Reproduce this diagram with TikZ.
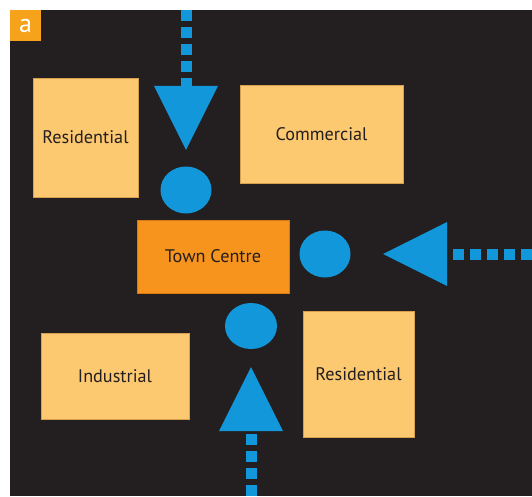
\documentclass[tikz,border=0pt]{standalone}
\usepackage{fontspec}
\setmainfont{PT Sans}
\usetikzlibrary{shapes.geometric,arrows.meta}

\definecolor{backdrop}{RGB}{35,31,32}
\definecolor{zonefill}{RGB}{252,200,112}
\definecolor{zoneedge}{RGB}{214,160,80}
\definecolor{centrefill}{RGB}{247,148,30}
\definecolor{centreedge}{RGB}{214,120,20}
\definecolor{tagfill}{RGB}{246,162,27}
\definecolor{flowblue}{RGB}{18,152,218}
\definecolor{inktext}{RGB}{35,31,32}

\begin{document}
\begin{tikzpicture}[x=1pt,y=-1pt,
  zone/.style={draw=zoneedge, line width=0.8pt, fill=zonefill, inner sep=0pt,
    text=inktext, font=\fontsize{18.2}{21}\selectfont},
  centre/.style={zone, draw=centreedge, fill=centrefill},
  dot/.style={ellipse, fill=flowblue, inner sep=0pt, minimum width=51pt, minimum height=47pt},
  flow/.style={draw=flowblue, line width=11pt, dash pattern=on 11pt off 6pt,
    -{Triangle[length=64pt, width=64pt, line width=0pt]}},
  tag/.style={fill=tagfill, text=white, minimum width=31pt, minimum height=31pt,
    inner sep=0pt, font=\fontsize{26}{26}\selectfont}]

  % page and dark panel
  \fill[white] (0,0) rectangle (532,496);
  \fill[backdrop] (10,10) rectangle (532,496);
  \useasboundingbox (0,0) rectangle (532,496);

  % panel label
  \node[tag] (label) at (25.5,25.5) {a};

  % land-use zones
  \node[zone, minimum width=105pt, minimum height=119pt] (resnw) at (85.5,137.5) {Residential};
  \node[zone, minimum width=163pt, minimum height=98pt] (commercial) at (321.5,134) {Commercial};
  \node[centre, minimum width=152pt, minimum height=73pt] (town) at (213,256.5) {Town Centre};
  \node[zone, minimum width=148pt, minimum height=86pt] (industrial) at (115,376) {Industrial};
  \node[zone, minimum width=111pt, minimum height=126pt] (resse) at (358.5,374) {Residential};

  % entry points
  \node[dot] (topdot) at (186,190) {};
  \node[dot] (eastdot) at (325,254) {};
  \node[dot, minimum width=52pt, minimum height=46pt] (lowdot) at (251,326) {};

  % where the routes come in from the edges
  \coordinate (topin) at (186,10);
  \coordinate (eastin) at (532,254);
  \coordinate (lowin) at (251,496);

  % inbound routes
  \draw[flow, shorten >=16.5pt] (topin) -- (topdot);
  \draw[flow, shorten >=32.5pt] (eastin) -- (eastdot);
  \draw[flow, shorten >=18pt] (lowin) -- (lowdot);
\end{tikzpicture}
\end{document}
